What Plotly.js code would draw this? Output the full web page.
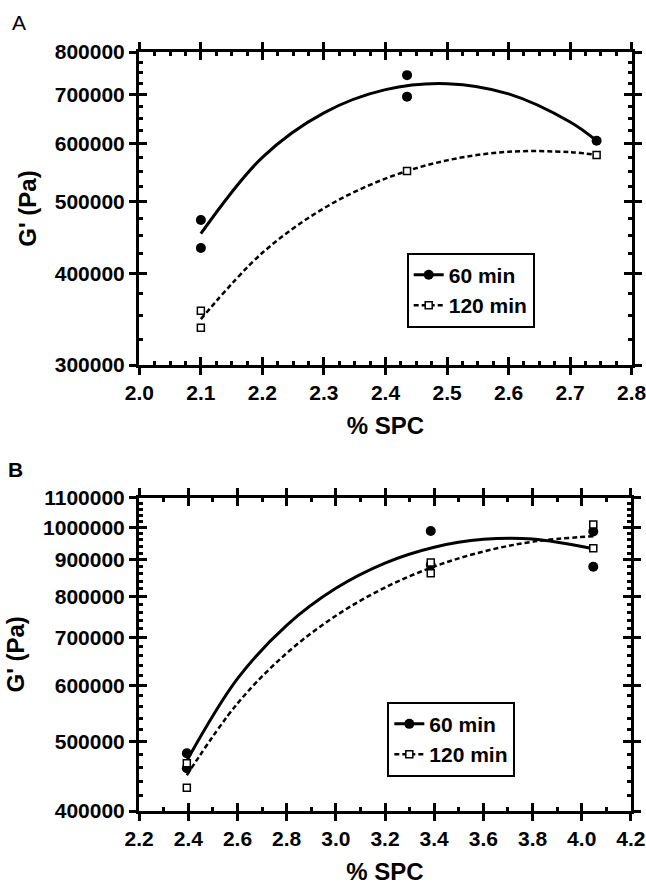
<!DOCTYPE html>
<html>
<head>
<meta charset="utf-8">
<script src="https://cdn.plot.ly/plotly-3.0.1.min.js"></script>
<style>html,body{margin:0;padding:0;background:#fff;}#chart{width:646px;height:885px;}</style>
</head>
<body>
<div id="chart"></div>
<script>
// ---------- Panel A data ----------
const a60X = [2.1, 2.1, 2.435, 2.435, 2.743];
const a60Y = [472500, 432900, 744000, 695600, 605800];
const a120X = [2.1, 2.1, 2.435, 2.743];
const a120Y = [355700, 337100, 551000, 579300];
const aFitX = [2.1, 2.2, 2.3, 2.4, 2.5, 2.6, 2.7, 2.743];
const aFit60Y = [452700, 575100, 661200, 711000, 724400, 701600, 642400, 605800];
const aFit120Y = [346400, 426400, 490300, 538100, 569700, 585200, 584500, 579300];
const aXTicks = [2.0, 2.1, 2.2, 2.3, 2.4, 2.5, 2.6, 2.7, 2.8];
const aXMinor = [2.025,2.05,2.075,2.125,2.15,2.175,2.225,2.25,2.275,2.325,2.35,2.375,2.425,2.45,2.475,2.525,2.55,2.575,2.625,2.65,2.675,2.725,2.75,2.775];
const aYTicks = [300000, 400000, 500000, 600000, 700000, 800000];
const aYTickText = ["300000", "400000", "500000", "600000", "700000", "800000"];
const aYMinor = [325000,350000,375000,425000,450000,475000,525000,550000,575000,625000,650000,675000,725000,750000,775000];

// ---------- Panel B data ----------
const b60X = [2.394, 2.394, 3.386, 3.386, 4.047, 4.047];
const b60Y = [482000, 459300, 987900, 885000, 986000, 880200];
const b120X = [2.394, 2.394, 3.386, 3.386, 4.047, 4.047];
const b120Y = [466700, 431200, 892000, 862000, 1009000, 934000];
const bFitX = [2.394, 2.6, 2.8, 3.0, 3.2, 3.4, 3.6, 3.8, 4.047];
const bFit60Y = [470600, 613200, 728500, 820900, 890600, 937500, 961600, 962900, 933000];
const bFit120Y = [449000, 566100, 665700, 751300, 822900, 880600, 924400, 954100, 971500];
const bXTicks = [2.2, 2.4, 2.6, 2.8, 3.0, 3.2, 3.4, 3.6, 3.8, 4.0, 4.2];
const bXMinor = [2.3, 2.5, 2.7, 2.9, 3.1, 3.3, 3.5, 3.7, 3.9, 4.1];
const bYTicks = [400000, 500000, 600000, 700000, 800000, 900000, 1000000, 1100000];
const bYTickText = ["400000", "500000", "600000", "700000", "800000", "900000", "1000000", "1100000"];
const bYMinor = [420000,440000,460000,480000,520000,540000,560000,580000,620000,640000,660000,680000,720000,740000,760000,780000,820000,840000,860000,880000,920000,940000,960000,980000,1020000,1040000,1060000,1080000];

const seriesNames = ["60 min", "120 min"];

const FONT = "Liberation Sans, Arial, sans-serif";
const solidLine = {color: "black", width: 3};
const dashLine = {color: "black", width: 2.5, dash: "5px,3px"};
const dotMarker = {symbol: "circle", size: 10, color: "black"};
const sqMarkerFill = {symbol: "square", size: 7, color: "white", line: {width: 1.5, color: "black"}};

function panelTraces(xa, ya, leg, fitX, fit60, fit120, p60x, p60y, p120x, p120y) {
  return [
    {x: fitX, y: fit60, mode: "lines", line: Object.assign({shape: "spline"}, solidLine), xaxis: xa, yaxis: ya, showlegend: false, hoverinfo: "skip"},
    {x: fitX, y: fit120, mode: "lines", line: Object.assign({shape: "spline"}, dashLine), xaxis: xa, yaxis: ya, showlegend: false, hoverinfo: "skip"},
    {x: p60x, y: p60y, mode: "markers", marker: dotMarker, xaxis: xa, yaxis: ya, showlegend: false},
    {x: p120x, y: p120y, mode: "markers", marker: sqMarkerFill, xaxis: xa, yaxis: ya, showlegend: false},
    {x: [null], y: [null], mode: "lines+markers", name: seriesNames[0], line: solidLine, marker: dotMarker, xaxis: xa, yaxis: ya, legend: leg},
    {x: [null], y: [null], mode: "lines+markers", name: seriesNames[1], line: dashLine, marker: sqMarkerFill, xaxis: xa, yaxis: ya, legend: leg}
  ];
}

const traces = []
  .concat(panelTraces("x", "y", "legend", aFitX, aFit60Y, aFit120Y, a60X, a60Y, a120X, a120Y))
  .concat(panelTraces("x2", "y2", "legend2", bFitX, bFit60Y, bFit120Y, b60X, b60Y, b120X, b120Y))
  .concat([
    {x: [], y: [], xaxis: "x3", yaxis: "y3", showlegend: false, hoverinfo: "skip"},
    {x: [], y: [], xaxis: "x4", yaxis: "y4", showlegend: false, hoverinfo: "skip"}
  ]);

const tickFont = {family: FONT, size: 21, color: "black", weight: "bold"};
const titleFont = {family: FONT, size: 24, color: "black", weight: "bold"};
const minorBase = {ticks: "inside", ticklen: 4, tickwidth: 3, tickcolor: "black", tickmode: "array", showgrid: false};

function mainAxis(extra) {
  return Object.assign({
    showline: true, linewidth: 3, linecolor: "black", mirror: "ticks",
    ticks: "outside", ticklen: 7, tickwidth: 3, tickcolor: "black",
    showgrid: false, zeroline: false, tickmode: "array",
    tickfont: tickFont, ticklabeloverflow: "allow"
  }, extra);
}
function overlayAxis(extra) {
  return Object.assign({
    showline: false, mirror: "ticks", ticks: "inside", ticklen: 8, tickwidth: 3, tickcolor: "black",
    showgrid: false, zeroline: false, tickmode: "array", showticklabels: false
  }, extra);
}

const aXR = [1.9995, 2.8005], aYR = [Math.log10(300000), Math.log10(800000)];
const bXR = [2.1995, 4.2005], bYR = [Math.log10(400000), Math.log10(1100000)];
const aDomY = [0.5876, 1], bDomY = [0, 0.4128];

const layout = {
  width: 646, height: 885,
  margin: {l: 139, r: 14, t: 52, b: 74},
  paper_bgcolor: "white", plot_bgcolor: "white",
  font: {family: FONT, color: "black"},
  xaxis: mainAxis({domain: [0, 1], anchor: "y", range: aXR, tickvals: aXTicks, tickformat: ".1f",
    minor: Object.assign({tickvals: aXMinor}, minorBase),
    title: {text: "% SPC", font: titleFont, standoff: 14}}),
  yaxis: mainAxis({domain: aDomY, anchor: "x", type: "log", range: aYR, tickvals: aYTicks, ticktext: aYTickText,
    minor: Object.assign({tickvals: aYMinor}, minorBase),
    title: {text: "G' (Pa)", font: titleFont, standoff: 12}}),
  xaxis3: overlayAxis({overlaying: "x", anchor: "y3", range: aXR, tickvals: aXTicks}),
  yaxis3: overlayAxis({overlaying: "y", anchor: "x3", type: "log", range: aYR, tickvals: aYTicks}),
  xaxis2: mainAxis({domain: [0, 0.998], anchor: "y2", range: bXR, tickvals: bXTicks, tickformat: ".1f",
    minor: Object.assign({tickvals: bXMinor}, minorBase),
    title: {text: "% SPC", font: titleFont, standoff: 14}}),
  yaxis2: mainAxis({domain: bDomY, anchor: "x2", type: "log", range: bYR, tickvals: bYTicks, ticktext: bYTickText,
    minor: Object.assign({tickvals: bYMinor}, minorBase),
    title: {text: "G' (Pa)", font: titleFont, standoff: 12}}),
  xaxis4: overlayAxis({overlaying: "x2", anchor: "y4", range: bXR, tickvals: bXTicks}),
  yaxis4: overlayAxis({overlaying: "y2", anchor: "x4", type: "log", range: bYR, tickvals: bYTicks}),
  legend: {x: 0.543, y: 0.7356, xanchor: "left", yanchor: "top", bordercolor: "black", borderwidth: 2,
    bgcolor: "white", font: {family: FONT, size: 21, color: "black", weight: "bold"}, tracegroupgap: 0},
  legend2: {x: 0.5037, y: 0.144, xanchor: "left", yanchor: "top", bordercolor: "black", borderwidth: 2,
    bgcolor: "white", font: {family: FONT, size: 21, color: "black", weight: "bold"}, tracegroupgap: 0},
  annotations: [
    {text: "A", xref: "paper", yref: "paper", x: -0.2444, y: 1.0395, xanchor: "center", yanchor: "middle",
      showarrow: false, font: {family: FONT, size: 21, color: "black"}},
    {text: "<b>B</b>", xref: "paper", yref: "paper", x: -0.2505, y: 0.4493, xanchor: "center", yanchor: "middle",
      showarrow: false, font: {family: FONT, size: 21, color: "black"}}
  ],
  showlegend: true
};

Plotly.newPlot("chart", traces, layout, {staticPlot: true, displayModeBar: false});
</script>
</body>
</html>
